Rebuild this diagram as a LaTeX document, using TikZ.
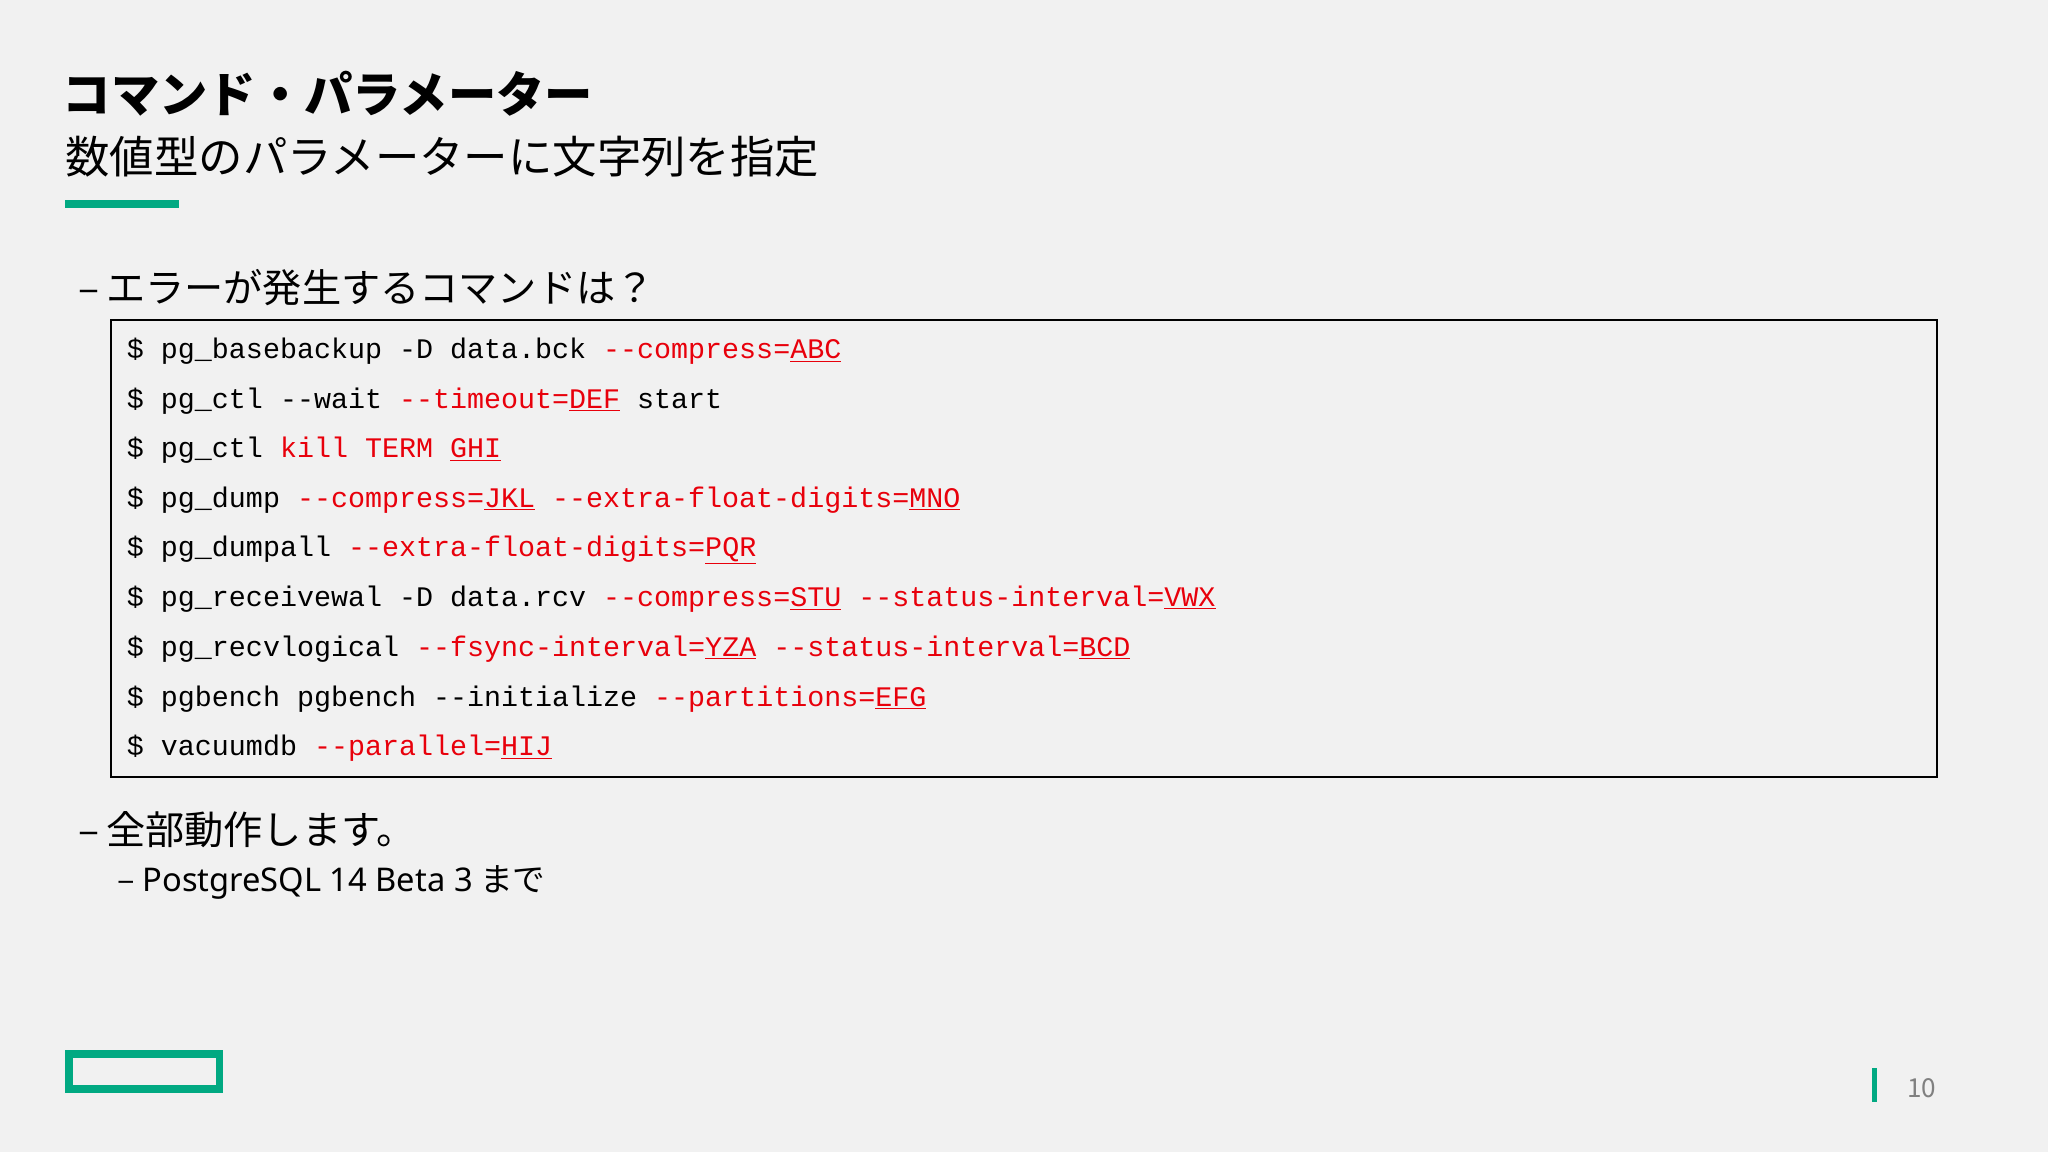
\documentclass[tikz,border=0pt]{standalone}
\usepackage{fontspec}
\setmainfont{Noto Sans CJK JP}
\newfontfamily\latf{Noto Sans}
\newfontfamily\codef{Liberation Mono}
\definecolor{hpe}{HTML}{01A982}
\definecolor{bgc}{HTML}{F1F1F1}
\definecolor{codered}{HTML}{E8000B}
\newcommand{\rd}[1]{\textcolor{codered}{#1}}
\newcommand{\ru}[1]{\textcolor{codered}{\underline{#1}}}
\tikzset{codeline/.style={anchor=west,inner sep=0pt,font=\codef\fontsize{21.7}{24}\selectfont},
 jp/.style={anchor=west,inner sep=0pt}}
\begin{document}
\begin{tikzpicture}[x=1pt,y=-1pt]
\fill[bgc] (0,0) rectangle (1568,882);
\useasboundingbox (0,0) rectangle (1568,882);
\node[jp,font=\fontsize{37}{40}\selectfont\bfseries] (t) at (48,72) {コマンド・パラメーター};
\node[jp,font=\fontsize{34}{37}\selectfont] (st) at (50,120) {数値型のパラメーターに文字列を指定};
\fill[hpe] (50,153) rectangle (137,159);
\node[jp,font=\fontsize{30}{32}\selectfont] (b1) at (60,220) {–\,エラーが発生するコマンドは？};
\draw[line width=1.2pt] (85,245) rectangle (1483,595);
\node[codeline] (l1) at (97,269) {\$ pg\_basebackup -D data.bck \rd{--compress=}\ru{ABC}};
\node[codeline] (l2) at (97,307) {\$ pg\_ctl --wait \rd{--timeout=}\ru{DEF} start};
\node[codeline] (l3) at (97,345) {\$ pg\_ctl \rd{kill TERM} \ru{GHI}};
\node[codeline] (l4) at (97,383) {\$ pg\_dump \rd{--compress=}\ru{JKL} \rd{--extra-float-digits=}\ru{MNO}};
\node[codeline] (l5) at (97,421) {\$ pg\_dumpall \rd{--extra-float-digits=}\ru{PQR}};
\node[codeline] (l6) at (97,459) {\$ pg\_receivewal -D data.rcv \rd{--compress=}\ru{STU} \rd{--status-interval=}\ru{VWX}};
\node[codeline] (l7) at (97,497) {\$ pg\_recvlogical \rd{--fsync-interval=}\ru{YZA} \rd{--status-interval=}\ru{BCD}};
\node[codeline] (l8) at (97,535) {\$ pgbench pgbench --initialize \rd{--partitions=}\ru{EFG}};
\node[codeline] (l9) at (97,573) {\$ vacuumdb \rd{--parallel=}\ru{HIJ}};
\node[jp,font=\fontsize{30}{32}\selectfont] (b2) at (60,635) {–\,全部動作します。};
\node[jp,font=\fontsize{25}{28}\selectfont] (b3) at (90,676) {– {\latf PostgreSQL 14 Beta 3} まで};
\draw[hpe,line width=6pt] (53,807) rectangle (168,834);
\fill[hpe] (1433,818) rectangle (1437,844);
\node[jp,font=\fontsize{20}{24}\selectfont,text=gray] (pn) at (1460,833) {10};
\end{tikzpicture}
\end{document}
